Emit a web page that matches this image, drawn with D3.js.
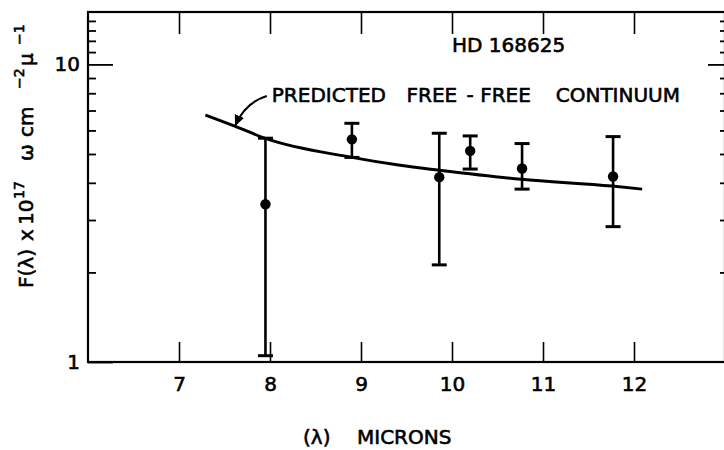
<!DOCTYPE html>
<html><head><meta charset="utf-8">
<script src="https://cdn.jsdelivr.net/npm/d3@7"></script>
<style>
html,body{margin:0;padding:0;background:#fff;}
svg{display:block;}
text{font-family:"DejaVu Sans",sans-serif;fill:#000;stroke:#000;stroke-width:0.6px;}
</style></head><body>
<svg id="chart" width="724" height="450"></svg>
<script>
// ---- data ----
const xTicks = [7, 8, 9, 10, 11, 12];
const yMajorTicks = [1, 10];
const yMinorTicks = [2, 3, 4, 5, 6, 7, 8, 9, 11, 12, 13, 14];

const obsWavelength = [7.95, 8.90, 9.86, 10.20, 10.77, 11.77];
const obsFlux       = [3.39, 5.60, 4.18, 5.12, 4.47, 4.20];
const obsFluxHigh   = [5.65, 6.34, 5.87, 5.75, 5.42, 5.72];
const obsFluxLow    = [1.05, 4.87, 2.12, 4.45, 3.81, 2.85];

const modelWavelength = [7.29, 7.62, 7.95, 8.90, 9.43, 9.86, 10.76, 11.76, 12.09];
const modelFlux       = [6.76, 6.19, 5.64, 4.87, 4.58, 4.41, 4.11, 3.90, 3.81];

const starName = "HD 168625";
const modelLabel = ["PREDICTED ", "FREE", "-", "FREE ", "CONTINUUM"];

// ---- scales ----
const svg = d3.select("#chart");
const x = d3.scaleLinear().domain([6, 13]).range([88, 725]);
const y = d3.scaleLog().domain([1, 15]).range([362, 12]);

const FONT = "DejaVu Sans, sans-serif";

// frame
svg.append("rect")
  .attr("x", x(6)).attr("y", y(15))
  .attr("width", x(13) - x(6)).attr("height", y(1) - y(15))
  .attr("fill", "none").attr("stroke", "#000").attr("stroke-width", 2.2);

function styleAxis(g, w) {
  g.select(".domain").remove();
  g.attr("font-family", FONT).attr("font-size", 20);
  g.selectAll(".tick line").attr("stroke", "#000").attr("stroke-width", w);
  g.selectAll(".tick text").attr("fill", "#000");
}

// bottom
svg.append("g").attr("transform", `translate(0,${y(1)})`)
  .call(d3.axisBottom(x).tickValues(xTicks).tickSize(-20).tickPadding(15).tickFormat(d3.format("d")))
  .call(g => styleAxis(g, 1.6));
// top
svg.append("g").attr("transform", `translate(0,${y(15)})`)
  .call(d3.axisTop(x).tickValues(xTicks).tickSize(-22).tickFormat(""))
  .call(g => styleAxis(g, 1.6));
// left
svg.append("g").attr("transform", `translate(${x(6)},0)`)
  .call(d3.axisLeft(y).tickValues(yMajorTicks).tickSize(-25).tickPadding(8).tickFormat(d3.format("d")))
  .call(g => styleAxis(g, 1.8));
svg.append("g").attr("transform", `translate(${x(6)},0)`)
  .call(d3.axisLeft(y).tickValues(yMinorTicks).tickSize(-8).tickFormat(""))
  .call(g => styleAxis(g, 1.8));
// right
svg.append("g").attr("transform", `translate(${x(13)},0)`)
  .call(d3.axisRight(y).tickValues([10]).tickSize(-17).tickFormat(""))
  .call(g => styleAxis(g, 1.8));
svg.append("g").attr("transform", `translate(${x(13)},0)`)
  .call(d3.axisRight(y).tickValues(yMinorTicks).tickSize(-5).tickFormat(""))
  .call(g => styleAxis(g, 1.8));

// model curve
const model = modelWavelength.map((l, i) => ({l, f: modelFlux[i]}));
svg.append("path").datum(model)
  .attr("fill", "none").attr("stroke", "#000").attr("stroke-width", 3)
  .attr("d", d3.line().x(d => x(d.l)).y(d => y(d.f)).curve(d3.curveMonotoneX));

// error bars + points
const obs = obsWavelength.map((l, i) => ({l, f: obsFlux[i], hi: obsFluxHigh[i], lo: obsFluxLow[i]}));
const eb = svg.append("g").selectAll("g").data(obs).join("g");
eb.append("line")
  .attr("x1", d => x(d.l)).attr("x2", d => x(d.l))
  .attr("y1", d => y(d.hi)).attr("y2", d => y(d.lo))
  .attr("stroke", "#000").attr("stroke-width", 2.6);
eb.append("line")
  .attr("x1", d => x(d.l) - 7.5).attr("x2", d => x(d.l) + 7.5)
  .attr("y1", d => y(d.hi)).attr("y2", d => y(d.hi))
  .attr("stroke", "#000").attr("stroke-width", 3);
eb.append("line")
  .attr("x1", d => x(d.l) - 7.5).attr("x2", d => x(d.l) + 7.5)
  .attr("y1", d => y(d.lo)).attr("y2", d => y(d.lo))
  .attr("stroke", "#000").attr("stroke-width", 3);
eb.append("circle")
  .attr("cx", d => x(d.l)).attr("cy", d => y(d.f)).attr("r", 5.2)
  .attr("fill", "#000");

// star name
svg.append("text").attr("x", x(10.0)).attr("y", y(11.0))
  .attr("font-size", 20).text(starName);

// model label, positioned in data units
const labelX = [8.02, 9.50, 10.16, 10.31, 11.14];
const lt = svg.append("text").attr("y", y(7.47)).attr("font-size", 20);
modelLabel.forEach((s, i) => lt.append("tspan").attr("x", x(labelX[i])).text(s));

// arrow from label to curve
const defs = svg.append("defs");
defs.append("marker").attr("id", "ah").attr("viewBox", "0 0 10 10")
  .attr("refX", 9).attr("refY", 5).attr("markerWidth", 11).attr("markerHeight", 11)
  .attr("markerUnits", "userSpaceOnUse").attr("orient", "auto")
  .append("path").attr("d", "M0,0.5 L10,5 L0,9.5 Z").attr("fill", "#000");
const a0 = [7.965, 7.83], ac = [7.73, 7.45], a1 = [7.62, 6.25];
svg.append("path")
  .attr("d", `M${x(a0[0])},${y(a0[1])} Q${x(ac[0])},${y(ac[1])} ${x(a1[0])},${y(a1[1])}`)
  .attr("fill", "none").attr("stroke", "#000").attr("stroke-width", 2)
  .attr("marker-end", "url(#ah)");

// x axis title
const xt = svg.append("text").attr("y", 444).attr("font-size", 20);
xt.append("tspan").attr("x", 303).text("(λ) ");
xt.append("tspan").attr("x", 357).text("MICRONS");

// y axis title (rotated)
const yt = svg.append("g").attr("transform", "translate(33,0) rotate(-90)")
  .append("text").attr("font-size", 20);
yt.append("tspan").attr("x", -288).attr("y", 0).text("F(λ) ");
yt.append("tspan").attr("x", -241).attr("y", 0).text("x ");
yt.append("tspan").attr("x", -225).attr("y", 0).text("10");
yt.append("tspan").attr("x", -199).attr("y", -9).attr("font-size", 14).text("17 ");
yt.append("tspan").attr("x", -161).attr("y", 0).text("ω ");
yt.append("tspan").attr("x", -137).attr("y", 0).text("cm");
yt.append("tspan").attr("x", -89).attr("y", -9).attr("font-size", 14).text("−2 ");
yt.append("tspan").attr("x", -66).attr("y", 0).text("μ");
yt.append("tspan").attr("x", -45).attr("y", -9).attr("font-size", 14).text("−1");
</script>
</body></html>
